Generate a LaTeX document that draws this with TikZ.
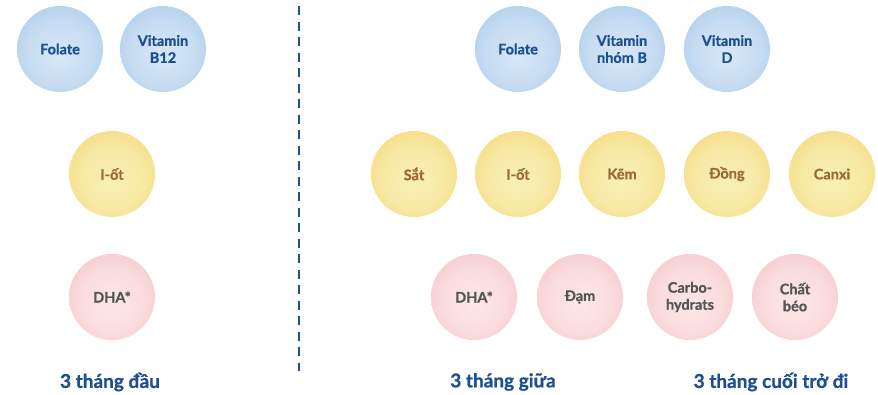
\documentclass[tikz,border=0pt]{standalone}
\usepackage{fontspec}
\setmainfont{Lato}[BoldFeatures={FakeBold=0.9}]
\definecolor{txtblue}{HTML}{1D4F91}
\definecolor{txtbrown}{HTML}{9C6A32}
\definecolor{txtgray}{HTML}{555555}
\definecolor{blueout}{HTML}{97C0E6}
\definecolor{bluein}{HTML}{D8E7F6}
\definecolor{yellowout}{HTML}{F5CD5E}
\definecolor{yellowin}{HTML}{F7F0B6}
\definecolor{pinkout}{HTML}{F3B4B7}
\definecolor{pinkin}{HTML}{FCE7E8}
\pgfdeclareradialshading{ballblue}{\pgfpoint{0bp}{-4bp}}{color(0bp)=(bluein); color(18bp)=(bluein!75!blueout); color(38bp)=(blueout!85!bluein); color(46bp)=(blueout); color(50bp)=(blueout)}
\pgfdeclareradialshading{ballyellow}{\pgfpoint{0bp}{-4bp}}{color(0bp)=(yellowin); color(18bp)=(yellowin!80!yellowout); color(38bp)=(yellowout!80!yellowin); color(46bp)=(yellowout); color(50bp)=(yellowout)}
\pgfdeclareradialshading{ballpink}{\pgfpoint{0bp}{-4bp}}{color(0bp)=(pinkin); color(18bp)=(pinkin!80!pinkout); color(38bp)=(pinkout!80!pinkin); color(46bp)=(pinkout); color(50bp)=(pinkout)}
\tikzset{
  ball/.style={circle, minimum size=86pt, inner sep=0pt, align=center,
    font=\fontsize{14.5}{17}\selectfont\bfseries},
  vitball/.style={ball, shading=ballblue, text=txtblue},
  minball/.style={ball, shading=ballyellow, text=txtbrown},
  otherball/.style={ball, shading=ballpink, text=txtgray},
  stagelabel/.style={font=\fontsize{19}{22}\selectfont\bfseries, text=txtblue},
  divider/.style={draw=txtblue, line width=2.2pt, dash pattern=on 9pt off 6.5pt}
}
\begin{document}
\begin{tikzpicture}[x=1pt, y=-1pt]
\useasboundingbox (0,0) rectangle (878,394);
% first trimester
\node[vitball] (folA) at (60,49) {Folate};
\node[vitball] (b12) at (163,49) {Vitamin\\B12};
\node[minball] (iotA) at (112,174) {I-ốt};
\node[otherball] (dhaA) at (112,297) {DHA*};
\node[stagelabel] (stA) at (110,382) {3 tháng đầu};
% divider
\coordinate (divTop) at (299,6);
\coordinate (divBot) at (299,371);
\draw[divider] (divTop) -- (divBot);
% second and third trimester
\node[vitball] (folB) at (518,49) {Folate};
\node[vitball] (vitB) at (622,49) {Vitamin\\nhóm B};
\node[vitball] (vitD) at (727,49) {Vitamin\\D};
\node[minball] (sat) at (414,174) {Sắt};
\node[minball] (iotB) at (518,174) {I-ốt};
\node[minball] (kem) at (622,174) {Kẽm};
\node[minball] (dong) at (727,174) {Đồng};
\node[minball] (canxi) at (832,174) {Canxi};
\node[otherball] (dhaB) at (474,297) {DHA*};
\node[otherball] (dam) at (580,297) {Đạm};
\node[otherball] (carb) at (690,297) {Carbo-\\hydrats};
\node[otherball] (beo) at (795,297) {Chất\\béo};
\node[stagelabel] (stB) at (503,382) {3 tháng giữa};
\node[stagelabel] (stC) at (771,382) {3 tháng cuối trở đi};
\end{tikzpicture}
\end{document}
